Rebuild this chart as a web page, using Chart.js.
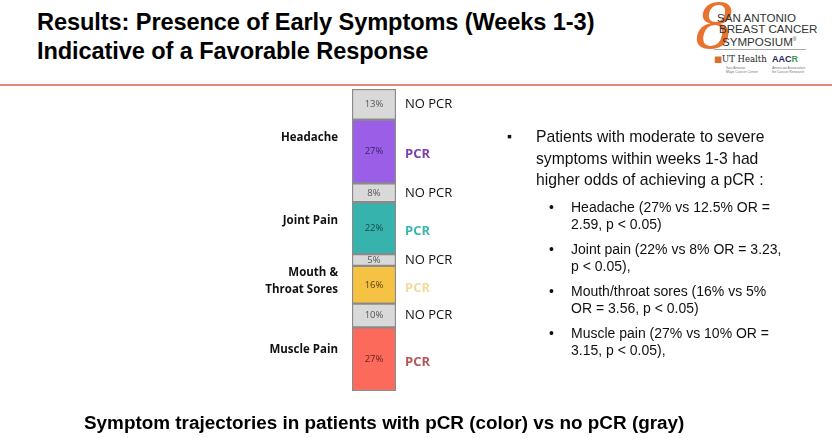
<!DOCTYPE html>
<html>
<head>
<meta charset="utf-8">
<script src="https://cdn.jsdelivr.net/npm/chart.js@4.4.1/dist/chart.umd.min.js"></script>
<style>
  html, body { margin: 0; padding: 0; background: #fff; }
  #slide { position: relative; width: 832px; height: 438px; overflow: hidden; font-family: "Liberation Sans", Arial, sans-serif; }
  #chart { position: absolute; left: 0; top: 0; }
  .title { position: absolute; left: 37px; top: 8px; font-size: 23.6px; font-weight: bold; line-height: 29px; color: #000; letter-spacing: -0.1px; }
  .rule { position: absolute; left: 0; top: 84px; width: 832px; height: 2px; background: #e0887c; }
  .bullets { position: absolute; left: 507px; top: 126px; color: #111; }
  .main { position: relative; padding-left: 29px; width: 232px; font-size: 15.7px; line-height: 21.5px; }
  .main:before { content: "\25AA"; position: absolute; left: 0; top: 0; font-size: 14px; }
  .sub { position: relative; margin-left: 42px; padding-left: 22px; width: 212px; font-size: 14px; line-height: 17px; margin-top: 8px; }
  .sub:before { content: "\2022"; position: absolute; left: 0; top: 0; }
  .first { margin-top: 8px; }
  .caption { position: absolute; left: 84px; top: 412px; font-size: 18.9px; font-weight: bold; color: #000; }
  .logo { position: absolute; left: 700px; top: 4px; width: 130px; height: 76px; }
  .eight { position: absolute; left: -5px; top: -14px; font-family: "DejaVu Serif", serif; font-style: italic; font-size: 62px; color: #e8732e; }
  .sabc { position: absolute; left: 17px; top: 9px; font-family: "Liberation Sans Narrow", "Liberation Sans", sans-serif; font-size: 11.6px; line-height: 10.5px; color: #333; }
  .sabc div:nth-child(2) { padding-left: 2px; }
  .sabc div:nth-child(3) { padding-left: 5px; }
  .logo-line { position: absolute; left: 14px; top: 45px; width: 92px; height: 1px; background: #aaa; }
  .ut { position: absolute; left: 14px; top: 50px; font-family: "DejaVu Serif", serif; font-size: 8.5px; color: #222; }
  .ut span { color: #d8702c; }
  .aacr { position: absolute; left: 72px; top: 50px; font-family: "Liberation Sans", sans-serif; font-weight: bold; font-size: 9px; color: #1a2a5a; }
  .tiny { position: absolute; font-size: 3.5px; color: #777; line-height: 4px; }
</style>
</head>
<body>
<div id="slide">
  <div class="title">Results: Presence of Early Symptoms (Weeks 1-3)<br>Indicative of a Favorable Response</div>
  <div class="rule"></div>
  <div class="logo">
    <div class="eight">8</div>
    <div class="sabc"><div>SAN ANTONIO</div><div>BREAST CANCER</div><div>SYMPOSIUM<sup style="font-size:5px">®</sup></div></div>
    <div class="logo-line"></div>
    <div class="ut"><span>&#9632;</span>UT Health</div>
    <div class="aacr">AAC<span style="color:#3aa049">R</span></div>
    <div class="tiny" style="left:26px;top:62px">San Antonio<br>Mays Cancer Center</div>
    <div class="tiny" style="left:72px;top:62px">American Association<br>for Cancer Research</div>
  </div>
  <canvas id="chart" width="832" height="438"></canvas>
  <div class="bullets">
    <div class="main">Patients with moderate to severe symptoms within weeks 1-3 had higher odds of achieving a pCR :</div>
    <div class="sub first">Headache (27% vs 12.5% OR = 2.59, p &lt; 0.05)</div>
    <div class="sub">Joint pain (22% vs 8% OR = 3.23, p &lt; 0.05),</div>
    <div class="sub">Mouth/throat sores (16% vs 5% OR = 3.56, p &lt; 0.05)</div>
    <div class="sub">Muscle pain (27% vs 10% OR = 3.15, p &lt; 0.05),</div>
  </div>
  <div class="caption">Symptom trajectories in patients with pCR (color) vs no pCR (gray)</div>
</div>
<script>
// symptom groups, top of the bar first
const categories = [['Headache'], ['Joint Pain'], ['Mouth &', 'Throat Sores'], ['Muscle Pain']];
const pcrValues = [27, 22, 16, 27];
const noPcrValues = [13, 8, 5, 10];
const pcrColors = ['#9a5fe6', '#36b3ad', '#f6c244', '#fc6a5b'];
const pcrTextColors = ['#7b3fb0', '#3ab8b0', '#f2dc9c', '#b55658'];
const pcrInnerText = ['#3f2169', '#134c49', '#5a4310', '#6a1e17'];
const grayFill = '#d9d9d9';

// stacked from the bottom up: last group first, PCR under NO PCR
let datasets = [];
for (let i = categories.length - 1; i >= 0; i--) {
    datasets.push({ label: 'PCR', group: i, data: [pcrValues[i]], backgroundColor: pcrColors[i], inner: pcrInnerText[i], side: pcrTextColors[i] });
    datasets.push({ label: 'NO PCR', group: i, data: [noPcrValues[i]], backgroundColor: grayFill, inner: '#555', side: '#111' });
}
const total = pcrValues.concat(noPcrValues).reduce((a, b) => a + b, 0);

const labelPlugin = {
    id: 'segLabels',
    afterDatasetsDraw(chart) {
        const ctx = chart.ctx;
        let groupTop = {}, groupBottom = {};
        ctx.save();
        ctx.textBaseline = 'middle';
        chart.data.datasets.forEach((ds, di) => {
            const bar = chart.getDatasetMeta(di).data[0];
            const mid = (bar.y + bar.base) / 2;
            ctx.fillStyle = ds.inner;
            ctx.textAlign = 'center';
            ctx.font = '9.5px "Open Sans", sans-serif';
            ctx.fillText(ds.data[0] + '%', bar.x, mid);
            ctx.textAlign = 'left';
            ctx.fillStyle = ds.side;
            ctx.font = ds.label === 'PCR' ? 'bold 13px "Open Sans", sans-serif' : '13px "Open Sans", sans-serif';
            ctx.fillText(ds.label, bar.x + bar.width / 2 + 9, mid + (ds.label === 'PCR' ? 3 : 0));
            groupTop[ds.group] = Math.min(groupTop[ds.group] ?? 1e9, bar.y);
            groupBottom[ds.group] = Math.max(groupBottom[ds.group] ?? -1e9, bar.base);
        });
        ctx.fillStyle = '#111';
        ctx.textAlign = 'right';
        ctx.font = 'bold 11.5px "Open Sans", sans-serif';
        const left = chart.chartArea.left - 14;
        categories.forEach((lines, g) => {
            const c = (groupTop[g] + groupBottom[g]) / 2 + 2;
            lines.forEach((t, k) => ctx.fillText(t, left, c + (k - (lines.length - 1) / 2) * 17));
        });
        ctx.restore();
    }
};

new Chart(document.getElementById('chart'), {
    type: 'bar',
    data: { labels: [''], datasets: datasets },
    options: {
        responsive: false,
        animation: false,
        layout: { padding: { left: 352, right: 436, top: 89, bottom: 47 } },
        datasets: { bar: { barPercentage: 1, categoryPercentage: 1, borderColor: '#8a8a8a', borderWidth: 1.5, borderSkipped: false } },
        scales: {
            x: { display: false, stacked: true },
            y: { display: false, stacked: true, min: 0, max: total }
        },
        plugins: { legend: { display: false }, tooltip: { enabled: false } }
    },
    plugins: [labelPlugin]
});
</script>
</body>
</html>
